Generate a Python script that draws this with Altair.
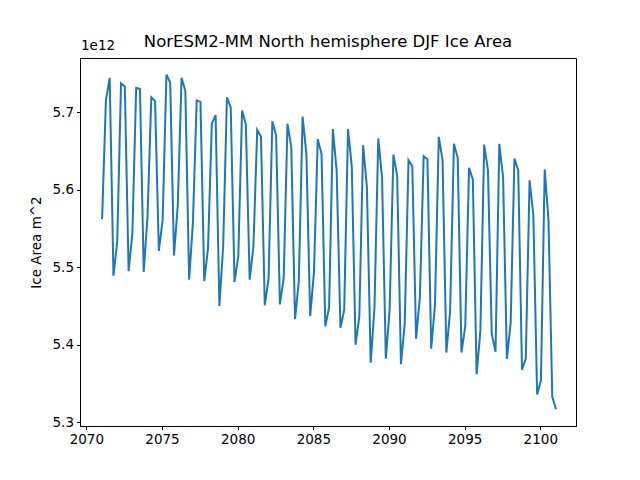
import altair as alt
import pandas as pd

# Quarterly time stamps (decimal year at mid-month of Jan, Apr, Jul, Oct)
years = [2071 + k // 4 for k in range(121)]
months = [[1, 4, 7, 10][k % 4] for k in range(121)]
time = [y + (m - 0.5) / 12 for y, m in zip(years, months)]

# Ice area, units of 1e12 m^2
ice_area = [
    5.562, 5.715, 5.744, 5.489, 5.533, 5.737, 5.733, 5.495, 5.544, 5.731,
    5.730, 5.494, 5.565, 5.719, 5.714, 5.521, 5.561, 5.748, 5.738, 5.515,
    5.580, 5.744, 5.727, 5.484, 5.557, 5.715, 5.713, 5.482, 5.525, 5.685,
    5.696, 5.450, 5.527, 5.719, 5.706, 5.481, 5.514, 5.702, 5.684, 5.484,
    5.527, 5.677, 5.668, 5.451, 5.485, 5.688, 5.670, 5.452, 5.486, 5.685,
    5.655, 5.433, 5.482, 5.694, 5.646, 5.437, 5.493, 5.665, 5.646, 5.424,
    5.448, 5.678, 5.625, 5.422, 5.445, 5.678, 5.630, 5.400, 5.437, 5.657,
    5.603, 5.377, 5.448, 5.666, 5.616, 5.382, 5.444, 5.645, 5.618, 5.375,
    5.427, 5.638, 5.630, 5.408, 5.461, 5.643, 5.639, 5.395, 5.452, 5.668,
    5.638, 5.390, 5.444, 5.659, 5.641, 5.390, 5.424, 5.628, 5.613, 5.362,
    5.418, 5.658, 5.625, 5.414, 5.391, 5.659, 5.616, 5.382, 5.428, 5.640,
    5.625, 5.368, 5.382, 5.612, 5.567, 5.336, 5.354, 5.626, 5.561, 5.333,
    5.317,
]

x_ticks = [2070, 2075, 2080, 2085, 2090, 2095, 2100]
y_ticks = [5.3, 5.4, 5.5, 5.6, 5.7]

df = pd.DataFrame({"time": time, "area": ice_area})

FONT = "DejaVu Sans"

line = alt.Chart(df).mark_line(color="#1f77b4", strokeWidth=2, clip=True).encode(
    x=alt.X(
        "time:Q",
        scale=alt.Scale(domain=[2069.58, 2102.36], nice=False, zero=False),
        axis=alt.Axis(values=x_ticks, format="d", title=None),
    ),
    y=alt.Y(
        "area:Q",
        scale=alt.Scale(domain=[5.2954, 5.7696], nice=False, zero=False),
        axis=alt.Axis(values=y_ticks, format=".1f", title="Ice Area m^2", titlePadding=9),
    ),
)

# Scale factor note above the y axis
offset_text = alt.Chart(pd.DataFrame({"t": ["1e12"]})).mark_text(
    align="left", baseline="bottom", font=FONT, fontSize=13.5, color="black"
).encode(x=alt.value(1), y=alt.value(-5), text="t:N")

# Chart title as a text mark centred over the plot
title_text = alt.Chart(pd.DataFrame({"t": ["NorESM2-MM North hemisphere DJF Ice Area"]})).mark_text(
    align="center", baseline="bottom", font=FONT, fontSize=16.5, color="black"
).encode(x=alt.value(248), y=alt.value(-8), text="t:N")

chart = (
    alt.layer(line, offset_text, title_text)
    .properties(
        width=496,
        height=368,
        background="white",
        autosize=alt.AutoSizeParams(type="none"),
        padding={"left": 80, "top": 58, "right": 64, "bottom": 54},
    )
    .configure_view(stroke="black", strokeWidth=1)
    .configure_axis(
        grid=False,
        domainColor="black",
        domainWidth=1,
        tickColor="black",
        tickSize=3.5,
        tickWidth=1,
        labelFont=FONT,
        labelFontSize=13.5,
        labelColor="black",
        labelPadding=3,
        titleFont=FONT,
        titleFontSize=13.5,
        titleFontWeight="normal",
        titleColor="black",
    )
)

chart.save("out.html", embed_options={"renderer": "svg", "actions": False})
